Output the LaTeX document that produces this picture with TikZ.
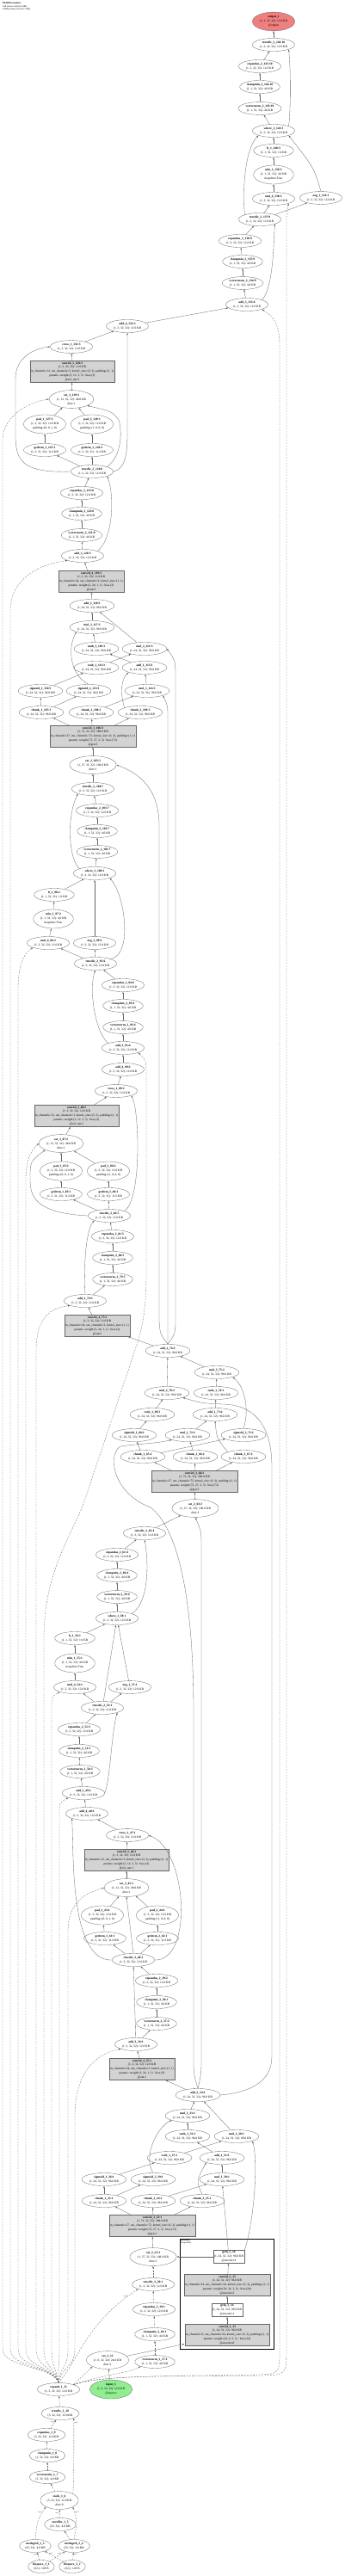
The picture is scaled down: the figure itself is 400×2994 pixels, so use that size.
\documentclass[tikz,border=0pt]{standalone}
\usepackage{fontspec}
\setmainfont{Liberation Serif}
\usetikzlibrary{arrows.meta, shapes.geometric, fit}
\definecolor{outred}{HTML}{F08080}
\definecolor{ingreen}{HTML}{90EE90}
\definecolor{prmgray}{HTML}{D3D3D3}
\begin{document}
\begin{tikzpicture}[
  x=0.05cm, y=-0.05cm,
  op/.style={ellipse, draw=black!60, line width=0.45pt, inner sep=1.8pt, align=center, font=\fontsize{5}{7}\selectfont},
  mod/.style={rectangle, draw=black!60, line width=0.45pt, inner xsep=1.5pt, inner ysep=1.6pt, align=center, font=\fontsize{5}{7}\selectfont},
  prm/.style={mod, fill=prmgray},
  clus/.style={draw=black, line width=1.4pt, inner xsep=5.5pt, inner ysep=5.5pt},
  arr/.style={-{Latex[length=3.5pt,width=2.6pt]}, line width=0.45pt, black!60},
  darr/.style={arr, dash pattern=on 2.8pt off 2pt},
  lbl/.style={font=\fontsize{3}{3.5}\selectfont, inner sep=0.6pt, black!80}
]
\path[use as bounding box, fill=white] (0,0) rectangle (400,2994);
\node[anchor=north west, align=left, inner sep=0pt, font=\fontsize{3.8}{4.6}\selectfont] (title) at (3,3) {\textbf{DEIDENormalizer}\\148 tensors total (6.6 MB)\\24498 params total (95.7 KB)};
% Output
\node[op, fill=outred] (out1) at (318,25) {\textbf{output\_1}\\(1, 3, 32, 32): 12.0 KB\\@output};
\node[op] (td146) at (318,52) {\textbf{truediv\_2\_146:10}\\(1, 3, 32, 32): 12.0 KB};
\node[op] (ea145) at (302,77) {\textbf{expandas\_2\_145:10}\\(1, 3, 32, 32): 12.0 KB};
\node[op] (cm144) at (302,101) {\textbf{clampmin\_2\_144:10}\\(1, 1, 32, 32): 4.0 KB};
\node[op] (vn143) at (302,126) {\textbf{vectornorm\_2\_143:10}\\(1, 1, 32, 32): 4.0 KB};
% Iteration 3
\node[op] (wh142) at (318,152) {\textbf{where\_1\_142:3}\\(1, 3, 32, 32): 12.0 KB};
\node[op] (lt140) at (318,175) {\textbf{lt\_1\_140:3}\\(1, 1, 32, 32): 1.0 KB};
\node[op] (mn139) at (318,203) {\textbf{min\_1\_139:3}\\(1, 1, 32, 32): 4.0 KB\\keepdim=True};
\node[op] (ml138) at (318,231) {\textbf{mul\_4\_138:3}\\(1, 3, 32, 32): 12.0 KB};
\node[op] (ng141) at (373,230) {\textbf{neg\_1\_141:3}\\(1, 3, 32, 32): 12.0 KB};
\node[op] (td137) at (302,255) {\textbf{truediv\_2\_137:9}\\(1, 3, 32, 32): 12.0 KB};
\node[op] (ea136) at (279,280) {\textbf{expandas\_2\_136:9}\\(1, 3, 32, 32): 12.0 KB};
\node[op] (cm135) at (282,304) {\textbf{clampmin\_2\_135:9}\\(1, 1, 32, 32): 4.0 KB};
\node[op] (vn134) at (282,329) {\textbf{vectornorm\_2\_134:9}\\(1, 1, 32, 32): 4.0 KB};
\node[op] (ad133) at (287,354) {\textbf{add\_3\_133:6}\\(1, 3, 32, 32): 12.0 KB};
\node[op] (ad132) at (148,379) {\textbf{add\_4\_132:3}\\(1, 3, 32, 32): 12.0 KB};
\node[op] (cr131) at (83,403) {\textbf{cross\_1\_131:3}\\(1, 3, 32, 32): 12.0 KB};
\node[prm] (cv130) at (84,432) {\textbf{conv2d\_5\_130:3}\\(1, 3, 32, 32): 12.0 KB\\in\_channels=12, out\_channels=3, kernel\_size=(3, 3), padding=(1, 1)\\params: weight (3, 12, 3, 3) · bias (3)\\@ref\_out:3};
\node[op] (ct129) at (83,464) {\textbf{cat\_3\_129:3}\\(1, 12, 32, 32): 48.0 KB\\dim=1};
\node[op] (pd127) at (52,493) {\textbf{pad\_1\_127:3}\\(1, 3, 32, 32): 12.0 KB\\padding=(0, 0, 1, 0)};
\node[op] (pd128) at (107,493) {\textbf{pad\_2\_128:3}\\(1, 3, 32, 32): 12.0 KB\\padding=(1, 0, 0, 0)};
\node[op] (gi125) at (52,523) {\textbf{getitem\_1\_125:3}\\(1, 3, 31, 32): 11.6 KB};
\node[op] (gi126) at (107,523) {\textbf{getitem\_2\_126:3}\\(1, 3, 32, 31): 11.6 KB};
\node[op] (td124) at (107,548) {\textbf{truediv\_2\_124:8}\\(1, 3, 32, 32): 12.0 KB};
\node[op] (ea123) at (95,573) {\textbf{expandas\_2\_123:8}\\(1, 3, 32, 32): 12.0 KB};
\node[op] (cm122) at (95,597) {\textbf{clampmin\_2\_122:8}\\(1, 1, 32, 32): 4.0 KB};
\node[op] (vn121) at (95,622) {\textbf{vectornorm\_2\_121:8}\\(1, 1, 32, 32): 4.0 KB};
\node[op] (ad120) at (96,646) {\textbf{add\_3\_120:5}\\(1, 3, 32, 32): 12.0 KB};
\node[prm] (cv119) at (106,676) {\textbf{conv2d\_4\_119:3}\\(1, 3, 32, 32): 12.0 KB\\in\_channels=24, out\_channels=3, kernel\_size=(1, 1)\\params: weight (3, 24, 1, 1) · bias (3)\\@out:3};
\node[op] (ad118) at (107,704) {\textbf{add\_2\_118:3}\\(1, 24, 32, 32): 96.0 KB};
\node[op] (ml117) at (107,729) {\textbf{mul\_3\_117:3}\\(1, 24, 32, 32): 96.0 KB};
\node[op] (th116) at (112,754) {\textbf{tanh\_1\_116:3}\\(1, 24, 32, 32): 96.0 KB};
\node[op] (ml112) at (168,754) {\textbf{mul\_2\_112:3}\\(1, 24, 32, 32): 96.0 KB};
\node[op] (rs111) at (112,776) {\textbf{rsub\_1\_111:3}\\(1, 24, 32, 32): 96.0 KB};
\node[op] (ad115) at (168,776) {\textbf{add\_1\_115:3}\\(1, 24, 32, 32): 96.0 KB};
\node[op] (sg110) at (47,803) {\textbf{sigmoid\_1\_110:3}\\(1, 24, 32, 32): 96.0 KB};
\node[op] (sg113) at (103,803) {\textbf{sigmoid\_2\_113:3}\\(1, 24, 32, 32): 96.0 KB};
\node[op] (ml114) at (171,803) {\textbf{mul\_1\_114:3}\\(1, 24, 32, 32): 96.0 KB};
\node[op] (ch107) at (48,828) {\textbf{chunk\_1\_107:3}\\(1, 24, 32, 32): 96.0 KB};
\node[op] (ch108) at (106,828) {\textbf{chunk\_2\_108:3}\\(1, 24, 32, 32): 96.0 KB};
\node[op] (ch109) at (163,828) {\textbf{chunk\_3\_109:3}\\(1, 24, 32, 32): 96.0 KB};
\node[prm] (cv106) at (108,856) {\textbf{conv2d\_3\_106:3}\\(1, 72, 32, 32): 288.0 KB\\in\_channels=27, out\_channels=72, kernel\_size=(3, 3), padding=(1, 1)\\params: weight (72, 27, 3, 3) · bias (72)\\@gru:3};
\node[op] (ct105) at (108,889) {\textbf{cat\_2\_105:3}\\(1, 27, 32, 32): 108.0 KB\\dim=1};
\node[op] (td104) at (108,917) {\textbf{truediv\_2\_104:7}\\(1, 3, 32, 32): 12.0 KB};
\node[op] (ea103) at (113,942) {\textbf{expandas\_2\_103:7}\\(1, 3, 32, 32): 12.0 KB};
\node[op] (cm102) at (113,966) {\textbf{clampmin\_2\_102:7}\\(1, 1, 32, 32): 4.0 KB};
\node[op] (vn101) at (113,990) {\textbf{vectornorm\_2\_101:7}\\(1, 1, 32, 32): 4.0 KB};
% Iteration 2
\node[op] (wh100) at (110,1015) {\textbf{where\_1\_100:2}\\(1, 3, 32, 32): 12.0 KB};
\node[op] (lt98) at (63,1040) {\textbf{lt\_1\_98:2}\\(1, 1, 32, 32): 1.0 KB};
\node[op] (mn97) at (62,1068) {\textbf{min\_1\_97:2}\\(1, 1, 32, 32): 4.0 KB\\keepdim=True};
\node[op] (ml96) at (56,1096) {\textbf{mul\_4\_96:2}\\(1, 3, 32, 32): 12.0 KB};
\node[op] (ng99) at (110,1096) {\textbf{neg\_1\_99:2}\\(1, 3, 32, 32): 12.0 KB};
\node[op] (td95) at (111,1120) {\textbf{truediv\_2\_95:6}\\(1, 3, 32, 32): 12.0 KB};
\node[op] (ea94) at (143,1145) {\textbf{expandas\_2\_94:6}\\(1, 3, 32, 32): 12.0 KB};
\node[op] (cm93) at (143,1169) {\textbf{clampmin\_2\_93:6}\\(1, 1, 32, 32): 4.0 KB};
\node[op] (vn92) at (143,1194) {\textbf{vectornorm\_2\_92:6}\\(1, 1, 32, 32): 4.0 KB};
\node[op] (ad91) at (143,1218) {\textbf{add\_3\_91:4}\\(1, 3, 32, 32): 12.0 KB};
\node[op] (ad90) at (143,1243) {\textbf{add\_4\_90:2}\\(1, 3, 32, 32): 12.0 KB};
\node[op] (cr89) at (135,1268) {\textbf{cross\_1\_89:2}\\(1, 3, 32, 32): 12.0 KB};
\node[prm] (cv88) at (89,1297) {\textbf{conv2d\_5\_88:2}\\(1, 3, 32, 32): 12.0 KB\\in\_channels=12, out\_channels=3, kernel\_size=(3, 3), padding=(1, 1)\\params: weight (3, 12, 3, 3) · bias (3)\\@ref\_out:2};
\node[op] (ct87) at (71,1329) {\textbf{cat\_3\_87:2}\\(1, 12, 32, 32): 48.0 KB\\dim=1};
\node[op] (pd85) at (71,1361) {\textbf{pad\_1\_85:2}\\(1, 3, 32, 32): 12.0 KB\\padding=(0, 0, 1, 0)};
\node[op] (pd86) at (126,1361) {\textbf{pad\_2\_86:2}\\(1, 3, 32, 32): 12.0 KB\\padding=(1, 0, 0, 0)};
\node[op] (gi83) at (71,1388) {\textbf{getitem\_1\_83:2}\\(1, 3, 31, 32): 11.6 KB};
\node[op] (gi84) at (126,1388) {\textbf{getitem\_2\_84:2}\\(1, 3, 32, 31): 11.6 KB};
\node[op] (td82) at (127,1413) {\textbf{truediv\_2\_82:5}\\(1, 3, 32, 32): 12.0 KB};
\node[op] (ea81) at (131,1437) {\textbf{expandas\_2\_81:5}\\(1, 3, 32, 32): 12.0 KB};
\node[op] (cm80) at (131,1462) {\textbf{clampmin\_2\_80:5}\\(1, 1, 32, 32): 4.0 KB};
\node[op] (vn79) at (131,1487) {\textbf{vectornorm\_2\_79:5}\\(1, 1, 32, 32): 4.0 KB};
\node[op] (ad78) at (99,1512) {\textbf{add\_3\_78:3}\\(1, 3, 32, 32): 12.0 KB};
\node[prm] (cv77) at (113,1541) {\textbf{conv2d\_4\_77:2}\\(1, 3, 32, 32): 12.0 KB\\in\_channels=24, out\_channels=3, kernel\_size=(1, 1)\\params: weight (3, 24, 1, 1) · bias (3)\\@out:2};
\node[op] (ad76) at (195,1570) {\textbf{add\_2\_76:2}\\(1, 24, 32, 32): 96.0 KB};
\node[op] (ml75) at (252,1595) {\textbf{mul\_3\_75:2}\\(1, 24, 32, 32): 96.0 KB};
\node[op] (ml70) at (194,1619) {\textbf{mul\_2\_70:2}\\(1, 24, 32, 32): 96.0 KB};
\node[op] (th74) at (251,1619) {\textbf{tanh\_1\_74:2}\\(1, 24, 32, 32): 96.0 KB};
\node[op] (rs69) at (177,1644) {\textbf{rsub\_1\_69:2}\\(1, 24, 32, 32): 96.0 KB};
\node[op] (ad73) at (250,1644) {\textbf{add\_1\_73:2}\\(1, 24, 32, 32): 96.0 KB};
\node[op] (sg68) at (156,1668) {\textbf{sigmoid\_1\_68:2}\\(1, 24, 32, 32): 96.0 KB};
\node[op] (ml72) at (218,1668) {\textbf{mul\_1\_72:2}\\(1, 24, 32, 32): 96.0 KB};
\node[op] (sg71) at (283,1668) {\textbf{sigmoid\_2\_71:2}\\(1, 24, 32, 32): 96.0 KB};
\node[op] (ch65) at (166,1693) {\textbf{chunk\_1\_65:2}\\(1, 24, 32, 32): 96.0 KB};
\node[op] (ch66) at (227,1693) {\textbf{chunk\_2\_66:2}\\(1, 24, 32, 32): 96.0 KB};
\node[op] (ch67) at (283,1693) {\textbf{chunk\_3\_67:2}\\(1, 24, 32, 32): 96.0 KB};
\node[prm] (cv64) at (226,1722) {\textbf{conv2d\_3\_64:2}\\(1, 72, 32, 32): 288.0 KB\\in\_channels=27, out\_channels=72, kernel\_size=(3, 3), padding=(1, 1)\\params: weight (72, 27, 3, 3) · bias (72)\\@gru:2};
\node[op] (ct63) at (227,1753) {\textbf{cat\_2\_63:2}\\(1, 27, 32, 32): 108.0 KB\\dim=1};
\node[op] (td62) at (168,1782) {\textbf{truediv\_2\_62:4}\\(1, 3, 32, 32): 12.0 KB};
\node[op] (ea61) at (136,1807) {\textbf{expandas\_2\_61:4}\\(1, 3, 32, 32): 12.0 KB};
\node[op] (cm60) at (136,1831) {\textbf{clampmin\_2\_60:4}\\(1, 1, 32, 32): 4.0 KB};
\node[op] (vn59) at (136,1856) {\textbf{vectornorm\_2\_59:4}\\(1, 1, 32, 32): 4.0 KB};
% Iteration 1
\node[op] (wh58) at (136,1881) {\textbf{where\_1\_58:1}\\(1, 3, 32, 32): 12.0 KB};
\node[op] (lt56) at (87,1904) {\textbf{lt\_1\_56:1}\\(1, 1, 32, 32): 1.0 KB};
\node[op] (mn55) at (87,1933) {\textbf{min\_1\_55:1}\\(1, 1, 32, 32): 4.0 KB\\keepdim=True};
\node[op] (ml54) at (87,1961) {\textbf{mul\_4\_54:1}\\(1, 3, 32, 32): 12.0 KB};
\node[op] (ng57) at (151,1961) {\textbf{neg\_1\_57:1}\\(1, 3, 32, 32): 12.0 KB};
\node[op] (td53) at (119,1985) {\textbf{truediv\_2\_53:3}\\(1, 3, 32, 32): 12.0 KB};
\node[op] (ea52) at (92,2010) {\textbf{expandas\_2\_52:3}\\(1, 3, 32, 32): 12.0 KB};
\node[op] (cm51) at (92,2035) {\textbf{clampmin\_2\_51:3}\\(1, 1, 32, 32): 4.0 KB};
\node[op] (vn50) at (93,2059) {\textbf{vectornorm\_2\_50:3}\\(1, 1, 32, 32): 4.0 KB};
\node[op] (ad49) at (97,2084) {\textbf{add\_3\_49:2}\\(1, 3, 32, 32): 12.0 KB};
\node[op] (ad48) at (101,2108) {\textbf{add\_4\_48:1}\\(1, 3, 32, 32): 12.0 KB};
\node[op] (cr47) at (148,2133) {\textbf{cross\_1\_47:1}\\(1, 3, 32, 32): 12.0 KB};
\node[prm] (cv46) at (147,2162) {\textbf{conv2d\_5\_46:1}\\(1, 3, 32, 32): 12.0 KB\\in\_channels=12, out\_channels=3, kernel\_size=(3, 3), padding=(1, 1)\\params: weight (3, 12, 3, 3) · bias (3)\\@ref\_out:1};
\node[op] (ct45) at (147,2194) {\textbf{cat\_3\_45:1}\\(1, 12, 32, 32): 48.0 KB\\dim=1};
\node[op] (pd43) at (119,2226) {\textbf{pad\_1\_43:1}\\(1, 3, 32, 32): 12.0 KB\\padding=(0, 0, 1, 0)};
\node[op] (pd44) at (183,2226) {\textbf{pad\_2\_44:1}\\(1, 3, 32, 32): 12.0 KB\\padding=(1, 0, 0, 0)};
\node[op] (gi41) at (122,2253) {\textbf{getitem\_1\_41:1}\\(1, 3, 31, 32): 11.6 KB};
\node[op] (gi42) at (183,2253) {\textbf{getitem\_2\_42:1}\\(1, 3, 32, 31): 11.6 KB};
\node[op] (td40) at (155,2278) {\textbf{truediv\_2\_40:2}\\(1, 3, 32, 32): 12.0 KB};
\node[op] (ea39) at (182,2302) {\textbf{expandas\_2\_39:2}\\(1, 3, 32, 32): 12.0 KB};
\node[op] (cm38) at (182,2327) {\textbf{clampmin\_2\_38:2}\\(1, 1, 32, 32): 4.0 KB};
\node[op] (vn37) at (182,2352) {\textbf{vectornorm\_2\_37:2}\\(1, 1, 32, 32): 4.0 KB};
\node[op] (ad36) at (158,2376) {\textbf{add\_3\_36:1}\\(1, 3, 32, 32): 12.0 KB};
\node[prm] (cv35) at (165,2405) {\textbf{conv2d\_4\_35:1}\\(1, 3, 32, 32): 12.0 KB\\in\_channels=24, out\_channels=3, kernel\_size=(1, 1)\\params: weight (3, 24, 1, 1) · bias (3)\\@out:1};
\node[op] (ad34) at (230,2435) {\textbf{add\_2\_34:1}\\(1, 24, 32, 32): 96.0 KB};
\node[op] (ml33) at (218,2459) {\textbf{mul\_3\_33:1}\\(1, 24, 32, 32): 96.0 KB};
\node[op] (th32) at (218,2483) {\textbf{tanh\_1\_32:1}\\(1, 24, 32, 32): 96.0 KB};
\node[op] (ml28) at (275,2483) {\textbf{mul\_2\_28:1}\\(1, 24, 32, 32): 96.0 KB};
\node[op] (rs27) at (197,2508) {\textbf{rsub\_1\_27:1}\\(1, 24, 32, 32): 96.0 KB};
\node[op] (ad31) at (258,2508) {\textbf{add\_1\_31:1}\\(1, 24, 32, 32): 96.0 KB};
\node[op] (sg26) at (121,2533) {\textbf{sigmoid\_1\_26:1}\\(1, 24, 32, 32): 96.0 KB};
\node[op] (sg29) at (178,2533) {\textbf{sigmoid\_2\_29:1}\\(1, 24, 32, 32): 96.0 KB};
\node[op] (ml30) at (258,2533) {\textbf{mul\_1\_30:1}\\(1, 24, 32, 32): 96.0 KB};
\node[op] (ch23) at (121,2558) {\textbf{chunk\_1\_23:1}\\(1, 24, 32, 32): 96.0 KB};
\node[op] (ch24) at (178,2558) {\textbf{chunk\_2\_24:1}\\(1, 24, 32, 32): 96.0 KB};
\node[op] (ch25) at (235,2558) {\textbf{chunk\_3\_25:1}\\(1, 24, 32, 32): 96.0 KB};
\node[prm] (cv22) at (177,2587) {\textbf{conv2d\_3\_22:1}\\(1, 72, 32, 32): 288.0 KB\\in\_channels=27, out\_channels=72, kernel\_size=(3, 3), padding=(1, 1)\\params: weight (72, 27, 3, 3) · bias (72)\\@gru:1};
\node[op] (ct21) at (178,2623) {\textbf{cat\_2\_21:1}\\(1, 27, 32, 32): 108.0 KB\\dim=1};
\node[op] (td20) at (178,2655) {\textbf{truediv\_2\_20:1}\\(1, 3, 32, 32): 12.0 KB};
\node[op] (ea19) at (179,2684) {\textbf{expandas\_2\_19:1}\\(1, 3, 32, 32): 12.0 KB};
\node[op] (cm18) at (180,2713) {\textbf{clampmin\_2\_18:1}\\(1, 1, 32, 32): 4.0 KB};
\node[op] (vn17) at (180,2745) {\textbf{vectornorm\_2\_17:1}\\(1, 1, 32, 32): 4.0 KB};
% Encoder
\node[mod] (gl16) at (266,2623) {\textbf{gelu\_2\_16}\\(1, 24, 32, 32): 96.0 KB\\@encoder.3};
\node[prm] (cv15) at (264,2656) {\textbf{conv2d\_2\_15}\\(1, 24, 32, 32): 96.0 KB\\in\_channels=24, out\_channels=24, kernel\_size=(3, 3), padding=(1, 1)\\params: weight (24, 24, 3, 3) · bias (24)\\@encoder.2};
\node[mod] (gl14) at (264,2685) {\textbf{gelu\_1\_14}\\(1, 24, 32, 32): 96.0 KB\\@encoder.1};
\node[prm] (cv13) at (264,2714) {\textbf{conv2d\_1\_13}\\(1, 24, 32, 32): 96.0 KB\\in\_channels=6, out\_channels=24, kernel\_size=(3, 3), padding=(1, 1)\\params: weight (24, 6, 3, 3) · bias (24)\\@encoder.0};
\coordinate (enctop) at (264,2606);
\node[clus, fit=(enctop)(gl16)(cv15)(gl14)(cv13)] (enc) {};
\node[anchor=north west, align=left, inner sep=1pt, font=\fontsize{3.5}{4.2}\selectfont] (enclbl) at (enc.north west) {\textbf{@encoder}\\(Sequential)};
% Input and grid
\node[op] (ct12) at (125,2743) {\textbf{cat\_1\_12}\\(1, 6, 32, 32): 24.0 KB\\dim=1};
\node[op, fill=ingreen] (in1) at (129,2777) {\textbf{input\_1}\\(1, 3, 32, 32): 12.0 KB\\@input.x};
\node[op] (ex11) at (68,2777) {\textbf{expand\_1\_11}\\(1, 3, 32, 32): 12.0 KB};
\node[op] (td10) at (70,2805) {\textbf{truediv\_1\_10}\\(3, 32, 32): 12.0 KB};
\node[op] (ea9) at (54,2830) {\textbf{expandas\_1\_9}\\(3, 32, 32): 12.0 KB};
\node[op] (cm8) at (55,2854) {\textbf{clampmin\_1\_8}\\(1, 32, 32): 4.0 KB};
\node[op] (vn7) at (55,2879) {\textbf{vectornorm\_1\_7}\\(1, 32, 32): 4.0 KB};
\node[op] (st6) at (69,2906) {\textbf{stack\_1\_6}\\(3, 32, 32): 12.0 KB\\dim=0};
\node[op] (ol5) at (70,2934) {\textbf{oneslike\_1\_5}\\(32, 32): 4.0 KB};
\node[op] (mg3) at (41,2959) {\textbf{meshgrid\_1\_3}\\(32, 32): 4.0 KB};
\node[op] (mg4) at (86,2959) {\textbf{meshgrid\_2\_4}\\(32, 32): 4.0 KB};
\node[op] (ls1) at (48,2983) {\textbf{linspace\_1\_1}\\(32,): 128 B};
\node[op] (ls2) at (84,2983) {\textbf{linspace\_2\_2}\\(32,): 128 B};
% Edges: grid
\draw[darr] (ls1) -- node[lbl, pos=0.75, left] {arg 0} (mg3);
\draw[darr] (ls1) -- node[lbl, pos=0.8, left] {arg 0} (mg4);
\draw[darr] (ls2) -- node[lbl, pos=0.8, right] {arg 1} (mg3);
\draw[darr] (ls2) -- node[lbl, pos=0.75, right] {arg 1} (mg4);
\draw[darr] (mg3.north) .. controls (43,2930) .. node[lbl, pos=0.85, left] {arg 0} (st6.south west);
\draw[darr] (ol5) -- node[lbl, pos=0.6, left] {arg 1} (st6);
\draw[darr] (mg4.north) .. controls (90,2930) .. node[lbl, pos=0.85, right] {arg 2} (st6.south east);
\draw[darr] (mg4) -- (ol5);
\draw[darr] (st6) -- (vn7);
\draw[darr] (vn7) -- (cm8);
\draw[darr] (cm8) -- (ea9);
\draw[darr] (ea9) -- node[lbl, pos=0.8, left] {arg 1} (td10);
\draw[darr] (st6.north east) .. controls (86,2880) and (86,2830) .. node[lbl, pos=0.92, right] {arg 0} (td10.south east);
\draw[darr] (td10) -- (ex11);
% Edges: grid to every iteration
\draw[darr] (ex11.north) .. controls (62,2750) and (3,2752) .. (3,2730) -- (3,512) .. controls (3,480) and (40,466) .. (ct129.west);
\draw[darr] (ex11.north) .. controls (62,2750) and (12,2752) .. (12,2730) -- (12,710) .. controls (12,670) and (50,655) .. (ad120.south west);
\draw[darr] (ex11.north) .. controls (62,2750) and (21,2752) .. (21,2730) -- (21,1150) .. controls (21,1115) and (32,1105) .. (ml96.south west);
\draw[darr] (ex11.north) .. controls (62,2750) and (30,2752) .. (30,2730) -- (30,1372) .. controls (30,1345) and (38,1335) .. (ct87.west);
\draw[darr] (ex11.north) .. controls (63,2750) and (42,2752) .. (42,2730) -- (42,1570) .. controls (42,1530) and (60,1520) .. (ad78.south west);
\draw[darr] (ex11.north) .. controls (64,2750) and (51,2752) .. (51,2730) -- (51,1905) .. controls (51,1830) and (80,1790) .. (97,1748) -- (160,1560) .. controls (166,1540) and (170,1520) .. (170,1480) -- (170,1250) .. controls (170,1232) .. (ad91.south east);
\draw[darr] (ex11.north) .. controls (65,2750) and (60,2752) .. (60,2730) -- (60,1985) .. controls (60,1972) .. (ml54.south west);
\draw[darr] (ex11.north) .. controls (67,2750) and (69,2752) .. (69,2730) -- (69,2110) .. controls (69,2095) .. (ad49.south west);
\draw[darr] (ex11.north) .. controls (70,2750) and (79,2752) .. (79,2730) -- (79,2245) .. controls (79,2210) and (100,2200) .. (ct45.west);
\draw[darr] (ex11.north) .. controls (72,2750) and (87,2752) .. (87,2730) -- (87,2460) .. controls (87,2400) and (120,2385) .. (ad36.south west);
\draw[darr] (ex11.north east) .. controls (120,2760) and (200,2762) .. (300,2760) .. controls (325,2759) .. (325,2730) -- (325,400) .. controls (325,370) and (312,365) .. (ad133.south east);
\draw[darr] (ex11.north east) .. controls (120,2760) and (200,2762) .. (305,2761) .. controls (333,2760) .. (333,2730) -- (333,262) .. controls (333,248) .. (ml138.south east);
\draw[darr] (ex11.north east) .. controls (120,2760) and (150,2758) .. (vn17.south west);
\draw[darr] (ex11.north east) -- (ct12.south west);
\draw[darr] (ex11.north) .. controls (90,2745) and (100,2700) .. node[lbl, pos=0.93, left] {arg 0} (td20.south west);
% Edges: encoder
\draw[arr] (in1) -- (ct12);
\draw[arr] (ct12) -- (cv13);
\draw[arr] (cv13) -- (gl14);
\draw[arr] (gl14) -- (cv15);
\draw[arr] (cv15) -- (gl16);
\draw[arr] (gl16) -- (ct21);
\draw[arr] (gl16) -- (ml30);
\draw[arr] (gl16.north east) .. controls (296,2580) and (300,2510) .. (ml28.south east);
% Edges: iteration 1
\draw[darr] (vn17) -- (cm18);
\draw[darr] (cm18) -- (ea19);
\draw[darr] (ea19) -- (td20);
\draw[darr] (td20) -- (ct21);
\draw[arr] (ct21) -- (cv22);
\draw[arr] (cv22) -- (ch23);
\draw[arr] (cv22) -- (ch24);
\draw[arr] (cv22) -- (ch25);
\draw[arr] (ch23) -- (sg26);
\draw[arr] (ch23) -- (sg29);
\draw[arr] (ch24) -- (ml30);
\draw[arr] (ch25.north) .. controls (228,2535) .. (ad31.south west);
\draw[arr] (ml30) -- (ad31);
\draw[arr] (sg26) -- (rs27);
\draw[arr] (sg29.north) .. controls (165,2505) and (185,2470) .. (ml33.south west);
\draw[arr] (rs27) -- (ml28);
\draw[arr] (ad31) -- (th32);
\draw[arr] (th32) -- (ml33);
\draw[arr] (ml33) -- (ad34);
\draw[arr] (ml28) -- (ad34);
\draw[arr] (ad34) -- (cv35);
\draw[arr] (cv35) -- (ad36);
\draw[arr] (ad36) -- (vn37);
\draw[arr] (vn37) -- (cm38);
\draw[arr] (cm38) -- (ea39);
\draw[arr] (ea39) -- (td40);
\draw[arr] (ad36) -- (td40);
\draw[arr] (td40) -- (gi41);
\draw[arr] (td40) -- (gi42);
\draw[arr] (td40.north) -- (ct45.south);
\draw[arr] (td40.east) .. controls (225,2280) and (218,2150) .. (cr47.east);
\draw[arr] (td40.west) .. controls (80,2280) and (86,2150) .. (ad48.south west);
\draw[arr] (gi41) -- (pd43);
\draw[arr] (gi42) -- (pd44);
\draw[arr] (pd43) -- (ct45);
\draw[arr] (pd44) -- (ct45);
\draw[arr] (ct45) -- (cv46);
\draw[arr] (cv46) -- (cr47);
\draw[arr] (cr47) -- (ad48);
\draw[arr] (ad48) -- (ad49);
\draw[arr] (ad49) -- (vn50);
\draw[arr] (vn50) -- (cm51);
\draw[arr] (cm51) -- (ea52);
\draw[arr] (ea52) -- (td53);
\draw[arr] (ad49.east) .. controls (128,2070) and (130,2010) .. (td53.south east);
\draw[arr] (td53) -- (ml54);
\draw[arr] (td53) -- (ng57);
\draw[arr] (td53) -- (wh58);
\draw[arr] (ml54) -- (mn55);
\draw[arr] (mn55) -- (lt56);
\draw[arr] (lt56) -- (wh58);
\draw[arr] (ng57) -- (wh58);
\draw[arr] (wh58) -- (vn59);
\draw[arr] (vn59) -- (cm60);
\draw[arr] (cm60) -- (ea61);
\draw[arr] (ea61) -- (td62);
\draw[arr] (wh58.north east) .. controls (175,1860) and (172,1810) .. (td62.south);
\draw[arr] (td62) -- (ct63);
% Edges: iteration 2
\draw[arr] (ad34.north) .. controls (234,2410) .. (234,2390) -- (234,1800) .. controls (234,1780) .. (ct63.south);
\draw[arr] (ad34.north) .. controls (225,2410) .. (225,2390) -- (225,1990) .. controls (225,1850) and (205,1775) .. (175,1752) .. controls (130,1735) and (125,1690) .. (140,1681) .. controls (160,1678) and (180,1678) .. (ml72.south west);
\draw[arr] (ad34.east) .. controls (290,2432) and (316,2420) .. (316,2390) -- (316,1705) .. controls (316,1650) and (290,1633) .. (260,1632) .. controls (235,1631) .. (ml70.south east);
\draw[arr] (ct63) -- (cv64);
\draw[arr] (cv64) -- (ch65);
\draw[arr] (cv64) -- (ch66);
\draw[arr] (cv64) -- (ch67);
\draw[arr] (ch65) -- (sg68);
\draw[arr] (ch65) -- (sg71);
\draw[arr] (ch66) -- (ml72);
\draw[arr] (ch67.north west) .. controls (252,1672) .. (ad73.south);
\draw[arr] (ml72) -- (ad73);
\draw[arr] (sg68) -- (rs69);
\draw[arr] (rs69) -- (ml70);
\draw[arr] (ad73) -- (th74);
\draw[arr] (th74) -- (ml75);
\draw[arr] (sg71.north) .. controls (290,1640) and (285,1612) .. (ml75.south east);
\draw[arr] (ml75) -- (ad76);
\draw[arr] (ml70) -- (ad76);
\draw[arr] (ad76) -- (cv77);
\draw[arr] (cv77) -- (ad78);
\draw[arr] (ad78) -- (vn79);
\draw[arr] (vn79) -- (cm80);
\draw[arr] (cm80) -- (ea81);
\draw[arr] (ea81) -- (td82);
\draw[arr] (ad78.north) .. controls (97,1470) and (100,1430) .. (td82.south west);
\draw[arr] (td82) -- (gi83);
\draw[arr] (td82) -- (gi84);
\draw[arr] (td82.west) .. controls (40,1410) and (35,1390) .. (35,1370) .. controls (35,1350) .. (ct87.south west);
\draw[arr] (gi83) -- (pd85);
\draw[arr] (gi84) -- (pd86);
\draw[arr] (pd85) -- (ct87);
\draw[arr] (pd86) -- (ct87);
\draw[arr] (ct87) -- (cv88);
\draw[arr] (cv88) -- (cr89);
\draw[arr] (td82.north east) .. controls (165,1395) and (162,1290) .. (cr89.south east);
\draw[arr] (cr89) -- (ad90);
\draw[arr] (ad90) -- (ad91);
\draw[arr] (ad91) -- (vn92);
\draw[arr] (vn92) -- (cm93);
\draw[arr] (cm93) -- (ea94);
\draw[arr] (ea94) -- (td95);
\draw[arr] (ad91.north west) .. controls (108,1195) and (104,1145) .. (td95.south);
\draw[arr] (td95) -- (ml96);
\draw[arr] (td95) -- (ng99);
\draw[arr] (td95.north east) .. controls (155,1110) and (145,1040) .. (wh100.south east);
\draw[arr] (ml96) -- (mn97);
\draw[arr] (mn97) -- (lt98);
\draw[arr] (lt98) -- (wh100);
\draw[arr] (ng99) -- (wh100);
\draw[arr] (wh100) -- (vn101);
\draw[arr] (vn101) -- (cm102);
\draw[arr] (cm102) -- (ea103);
\draw[arr] (ea103) -- (td104);
\draw[arr] (wh100.north west) .. controls (80,1000) and (77,950) .. (td104.south west);
\draw[arr] (td104) -- (ct105);
% Edges: iteration 3
\draw[arr] (ad76.north) .. controls (186,1550) .. (185,1535) -- (185,960) .. controls (185,915) and (160,898) .. (ct105.east);
\draw[arr] (ad76.north) .. controls (195,1545) .. (195,1530) -- (195,835) .. controls (195,820) .. (ml114.south east);
\draw[arr] (ad76.north) .. controls (204,1550) .. (204,1530) -- (204,790) .. controls (204,768) .. (ml112.east);
\draw[arr] (ct105) -- (cv106);
\draw[arr] (cv106) -- (ch107);
\draw[arr] (cv106) -- (ch108);
\draw[arr] (cv106) -- (ch109);
\draw[arr] (ch107) -- (sg110);
\draw[arr] (ch107) -- (sg113);
\draw[arr] (ch108) -- (ml114);
\draw[arr] (ch109.north west) .. controls (140,808) and (140,790) .. (ad115.south west);
\draw[arr] (ml114) -- (ad115);
\draw[arr] (sg110) -- (rs111);
\draw[arr] (rs111) -- (ml112);
\draw[arr] (ad115) -- (th116);
\draw[arr] (th116) -- (ml117);
\draw[arr] (sg113.north) .. controls (82,785) and (78,755) .. (ml117.south west);
\draw[arr] (ml117) -- (ad118);
\draw[arr] (ml112) -- (ad118);
\draw[arr] (ad118) -- (cv119);
\draw[arr] (cv119) -- (ad120);
\draw[arr] (ad120) -- (vn121);
\draw[arr] (vn121) -- (cm122);
\draw[arr] (cm122) -- (ea123);
\draw[arr] (ea123) -- (td124);
\draw[arr] (ad120.north east) .. controls (132,625) and (133,575) .. (td124.south east);
\draw[arr] (td124) -- (gi125);
\draw[arr] (td124) -- (gi126);
\draw[arr] (td124.north east) .. controls (142,530) and (142,500) .. (138,488) .. controls (130,478) .. (ct129.south east);
\draw[arr] (td124.east) .. controls (148,545) and (148,520) .. (148,500) -- (ad132.south);
\draw[arr] (td124.west) .. controls (25,550) and (18,535) .. (18,505) -- (18,440) .. controls (18,415) and (40,405) .. (cr131.west);
\draw[arr] (gi125) -- (pd127);
\draw[arr] (gi126) -- (pd128);
\draw[arr] (pd127) -- (ct129);
\draw[arr] (pd128) -- (ct129);
\draw[arr] (ct129) -- (cv130);
\draw[arr] (cv130) -- (cr131);
\draw[arr] (cr131) -- (ad132);
\draw[arr] (ad132) -- (ad133);
\draw[arr] (ad133) -- (vn134);
\draw[arr] (vn134) -- (cm135);
\draw[arr] (cm135) -- (ea136);
\draw[arr] (ea136) -- (td137);
\draw[arr] (ad133.north east) .. controls (318,335) and (318,280) .. (td137.south east);
\draw[arr] (td137) -- (ml138);
\draw[arr] (td137.north east) -- (ng141);
\draw[arr] (td137.north west) .. controls (282,230) and (283,175) .. (wh142.south west);
\draw[arr] (ml138) -- (mn139);
\draw[arr] (mn139) -- (lt140);
\draw[arr] (lt140) -- (wh142);
\draw[arr] (ng141.north) .. controls (365,195) .. (wh142.south east);
\draw[arr] (wh142) -- (vn143);
\draw[arr] (vn143) -- (cm144);
\draw[arr] (cm144) -- (ea145);
\draw[arr] (ea145) -- (td146);
\draw[arr] (wh142.north east) .. controls (338,130) and (338,80) .. (td146.south east);
\draw[arr] (td146) -- (out1);
\end{tikzpicture}
\end{document}
